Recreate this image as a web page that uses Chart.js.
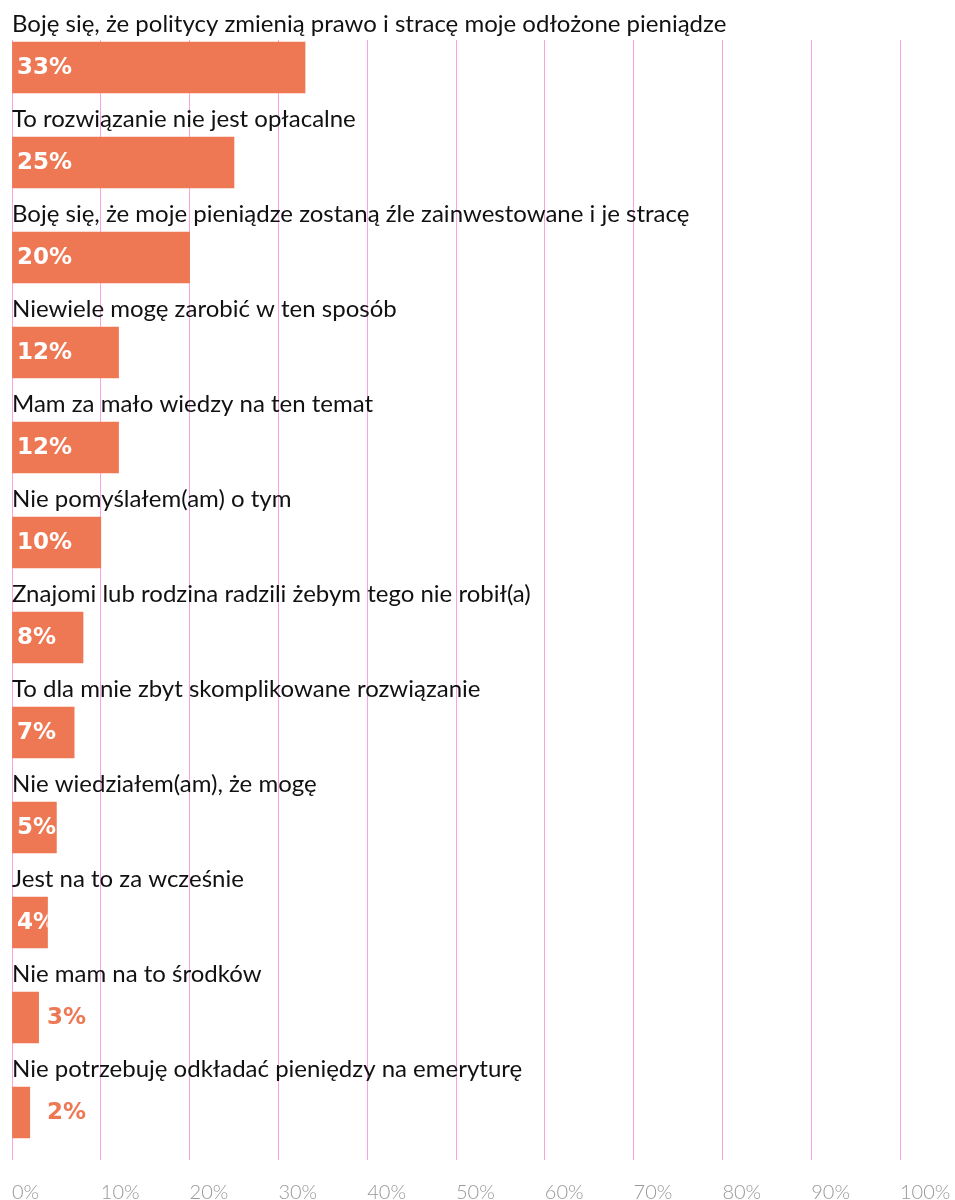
<!DOCTYPE html>
<html lang="pl">
<head>
<meta charset="utf-8">
<title>Powody</title>
<script src="https://cdn.jsdelivr.net/npm/chart.js@4/dist/chart.umd.min.js"></script>
<style>
  html, body { margin: 0; padding: 0; background: #fff; }
  #wrap { position: relative; width: 955px; height: 1200px; }
</style>
</head>
<body>
<div id="wrap"><canvas id="reasons"></canvas></div>
<script>
// ── Dane ─────────────────────────────────────────────────────
var categories = [
  'Boję się, że politycy zmienią prawo i stracę moje odłożone pieniądze',
  'To rozwiązanie nie jest opłacalne',
  'Boję się, że moje pieniądze zostaną źle zainwestowane i je stracę',
  'Niewiele mogę zarobić w ten sposób',
  'Mam za mało wiedzy na ten temat',
  'Nie pomyślałem(am) o tym',
  'Znajomi lub rodzina radzili żebym tego nie robił(a)',
  'To dla mnie zbyt skomplikowane rozwiązanie',
  'Nie wiedziałem(am), że mogę',
  'Jest na to za wcześnie',
  'Nie mam na to środków',
  'Nie potrzebuję odkładać pieniędzy na emeryturę'
];
var values = [33, 25, 20, 12, 12, 10, 8, 7, 5, 4, 3, 2];
var xTicks = [0, 10, 20, 30, 40, 50, 60, 70, 80, 90, 100];

var BAR    = '#EE7853';
var GRID   = '#FCA2E2';
var FONT   = 'Lato, "Noto Sans", sans-serif';
var BOLD   = '"DejaVu Sans", Lato, sans-serif';

// ── Etykiety: kategoria nad słupkiem, wartość w/obok słupka ──
var barLabels = {
  id: 'barLabels',
  beforeDatasetsDraw: function(chart) {
    // linie siatki zaczynają się dopiero od pierwszego słupka
    var bar = chart.getDatasetMeta(0).data[0];
    var ca = chart.chartArea, c = chart.ctx;
    if (!bar) return;
    c.save();
    c.fillStyle = '#fff';
    c.fillRect(0, ca.top - 1, chart.width, (bar.y - bar.height / 2) - ca.top - 1);
    c.restore();
  },
  afterDatasetsDraw: function(chart) {
    var c = chart.ctx, xs = chart.scales.x;
    var x0 = xs.getPixelForValue(0);
    c.save();
    chart.getDatasetMeta(0).data.forEach(function(bar, i) {
      var top = bar.y - bar.height / 2;
      // kategoria
      c.font = '400 24px ' + FONT;
      c.fillStyle = '#111';
      c.textAlign = 'left';
      c.textBaseline = 'alphabetic';
      c.fillText(categories[i], x0, top - 10);
      // wartość
      var v = values[i];
      c.font = '700 23px ' + BOLD;
      c.textBaseline = 'middle';
      if (v >= 4) {
        // biały tekst obcięty do słupka
        c.save();
        c.beginPath();
        c.rect(x0, top, bar.x - x0, bar.height);
        c.clip();
        c.fillStyle = '#fff';
        c.fillText(v + '%', x0 + 5, bar.y + 1);
        c.restore();
      } else {
        c.fillStyle = BAR;
        c.fillText(v + '%', x0 + 35, bar.y + 1);
      }
    });
    c.restore();
  }
};

new Chart(document.getElementById('reasons'), {
  type: 'bar',
  data: {
    labels: categories,
    datasets: [{
      data: values,
      backgroundColor: BAR,
      borderWidth: 0,
      barThickness: 51
    }]
  },
  options: {
    indexAxis: 'y',
    responsive: true,
    maintainAspectRatio: false,
    animation: false,
    layout: { padding: { left: 12, right: 55, top: 20, bottom: 0 } },
    plugins: {
      legend: { display: false },
      tooltip: { enabled: false }
    },
    scales: {
      x: {
        min: 0,
        max: 100,
        afterBuildTicks: function(s) { s.ticks = xTicks.map(function(v) { return { value: v }; }); },
        afterFit: function(s) {
          s.height = 40;
          // etykiety osi wyrównane do lewej – bez dodatkowego marginesu
          s.paddingLeft = 0;
          s.paddingRight = 0;
        },
        border: { display: false },
        grid: { color: GRID, lineWidth: 1, drawTicks: false },
        ticks: {
          color: '#999',
          align: 'start',
          padding: 21,
          font: { size: 20, weight: '300', family: FONT },
          callback: function(v) { return v + '%'; }
        }
      },
      y: {
        display: false,
        offset: true
      }
    }
  },
  plugins: [barLabels]
});
</script>
</body>
</html>
